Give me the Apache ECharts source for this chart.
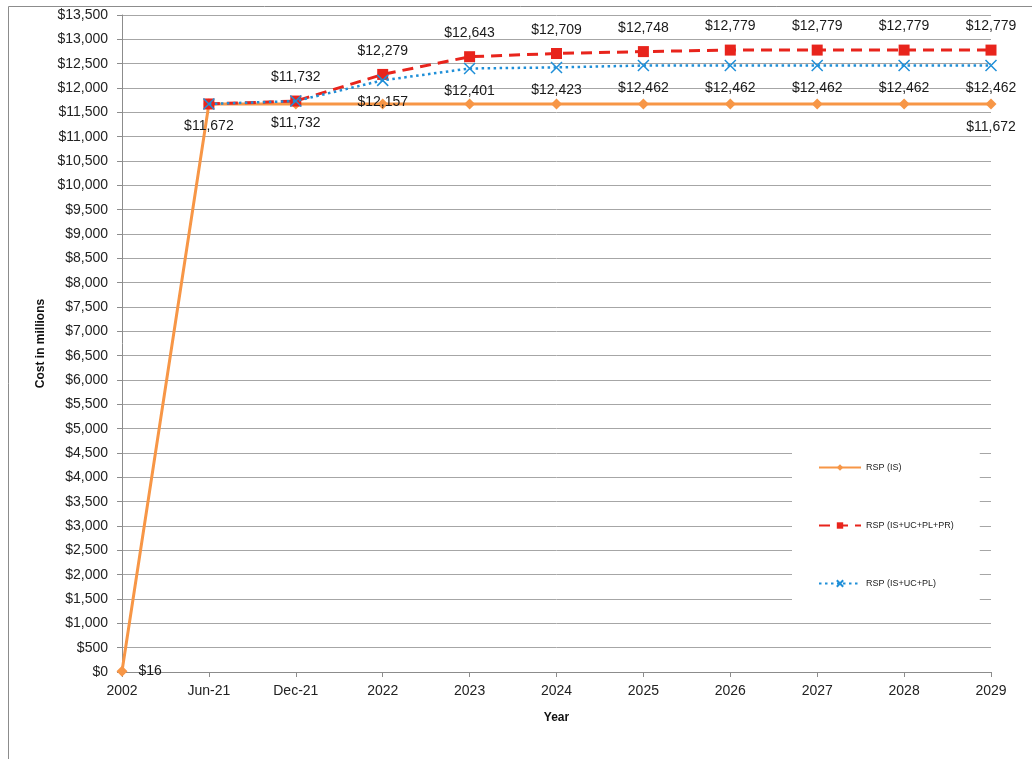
<!DOCTYPE html>
<html>
<head>
<meta charset="utf-8">
<script src="https://cdn.jsdelivr.net/npm/echarts@6/dist/echarts.min.js"></script>
<style>html,body{margin:0;padding:0;background:#fff}#c{width:1032px;height:759px}</style>
</head>
<body>
<div id="c"></div>
<script>
var categories = ['2002','Jun-21','Dec-21','2022','2023','2024','2025','2026','2027','2028','2029'];
var rspIS = [16,11672,11672,11672,11672,11672,11672,11672,11672,11672,11672];
var rspISUCPLPR = [null,11672,11732,12279,12643,12709,12748,12779,12779,12779,12779];
var rspISUCPL = [null,11672,11732,12157,12401,12423,12462,12462,12462,12462,12462];
var seriesNames = ['RSP (IS)','RSP (IS+UC+PL+PR)','RSP (IS+UC+PL)'];
// which points carry a data label
var labelIS = [1,0,0,0,0,0,0,0,0,0,1];
var labelPR = [0,0,1,1,1,1,1,1,1,1,1];
var labelPL = [0,1,1,1,1,1,1,1,1,1,1];

function money(v){ return '$' + String(Math.round(v)).replace(/\B(?=(\d{3})+(?!\d))/g, ','); }
var FONT = 'Liberation Sans';
function build(vals, flags, pos, dist, perPos){
  return vals.map(function(v,i){
    if (v === null) return null;
    var o = {value:v};
    var p = perPos && perPos[i] ? perPos[i] : pos;
    o.label = {show: !!flags[i], position: p, distance: dist};
    return o;
  });
}
var chart = echarts.init(document.getElementById('c'), null, {renderer:'canvas'});
var lblStyle = {color:'#1a1a1a', fontSize:14, fontFamily:FONT, formatter:function(p){return money(p.value);}};
chart.setOption({
  animation:false,
  backgroundColor:'#fff',
  graphic:[{type:'rect', shape:{x:8.5,y:6.5,width:1100,height:900}, style:{fill:'none', stroke:'#8c8c8c', lineWidth:1}, z:-1}],
  grid:{left:122, right:41, top:15, bottom:87},
  legend:{
    orient:'vertical', left:792, top:448, itemGap:49, itemWidth:42, itemHeight:8,
    padding:[15,26,15,26], backgroundColor:'#fff',
    textStyle:{fontSize:9, color:'#222', fontFamily:FONT},
    data:seriesNames
  },
  xAxis:{
    type:'category', data:categories, boundaryGap:false,
    name:'Year', nameLocation:'middle', nameGap:40,
    nameTextStyle:{fontWeight:'bold', fontSize:12, color:'#111', fontFamily:FONT},
    axisLine:{lineStyle:{color:'#8c8c8c', width:1}},
    axisTick:{show:true, alignWithLabel:true, length:5, lineStyle:{color:'#8c8c8c'}},
    axisLabel:{color:'#222', fontSize:14, fontFamily:FONT, margin:12}
  },
  yAxis:{
    type:'value', min:0, max:13500, interval:500,
    name:'Cost in millions', nameLocation:'middle', nameGap:71, nameRotate:90,
    nameTextStyle:{fontWeight:'bold', fontSize:12, color:'#111', fontFamily:FONT},
    axisLine:{show:true, lineStyle:{color:'#8c8c8c'}},
    axisTick:{show:true, length:5, lineStyle:{color:'#8c8c8c'}},
    axisLabel:{color:'#222', fontSize:14, fontFamily:FONT, margin:14, formatter:function(v){return money(v);}},
    splitLine:{lineStyle:{color:'#a6a6a6', width:1}}
  },
  series:[
    {name:seriesNames[0], type:'line', data:build(rspIS, labelIS, 'bottom', 11, {0:'right'}),
     symbol:'diamond', symbolSize:11,
     lineStyle:{color:'#F79646', width:3}, itemStyle:{color:'#F79646'},
     label:lblStyle, z:2},
    {name:seriesNames[1], type:'line', data:build(rspISUCPLPR, labelPR, 'top', 11),
     symbol:'rect', symbolSize:11, connectNulls:false,
     lineStyle:{color:'#E8241C', width:3, type:[11,7]}, itemStyle:{color:'#E8241C'},
     label:lblStyle, z:3},
    {name:seriesNames[2], type:'line', data:build(rspISUCPL, labelPL, 'bottom', 9),
     symbol:'path://M0,0L10,10M10,0L0,10', symbolSize:11,
     lineStyle:{color:'#1F8FD8', width:2.5, type:[2.5,3.5]},
     itemStyle:{color:'#1F8FD8', borderColor:'#1F8FD8', borderWidth:1.5},
     label:lblStyle, z:4}
  ]
});
</script>
</body>
</html>
